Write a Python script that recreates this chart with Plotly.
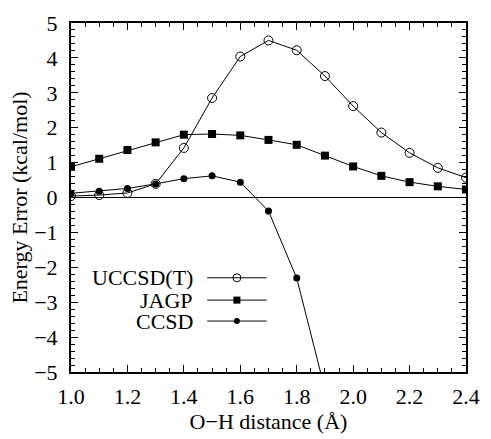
import plotly.graph_objects as go

# ---- data ----
oh_distance = [1.0, 1.1, 1.2, 1.3, 1.4, 1.5, 1.6, 1.7, 1.8, 1.9, 2.0, 2.1, 2.2, 2.3, 2.4]
uccsdt = [0.04, 0.07, 0.13, 0.39, 1.42, 2.85, 4.04, 4.50, 4.22, 3.48, 2.62, 1.86, 1.28, 0.85, 0.57]
jagp = [0.88, 1.11, 1.36, 1.58, 1.80, 1.82, 1.78, 1.65, 1.51, 1.20, 0.89, 0.62, 0.44, 0.32, 0.23]
ccsd_x = [1.0, 1.1, 1.2, 1.3, 1.4, 1.5, 1.6, 1.7, 1.8, 1.9]
ccsd = [0.12, 0.18, 0.26, 0.39, 0.54, 0.62, 0.44, -0.39, -2.31, -5.5]

series_names = ["UCCSD(T)", "JAGP", "CCSD"]
x_ticks = [1.0, 1.2, 1.4, 1.6, 1.8, 2.0, 2.2, 2.4]
y_ticks = [-5, -4, -3, -2, -1, 0, 1, 2, 3, 4, 5]

FONT = "Liberation Serif, Times New Roman, serif"
styles = [
    dict(symbol="circle-open", size=9, color="black", line=dict(color="black", width=1)),
    dict(symbol="square", size=8, color="black"),
    dict(symbol="circle", size=7, color="black"),
]
legend_styles = [
    dict(symbol="circle-open", size=8, color="black", line=dict(color="black", width=1)),
    dict(symbol="square", size=7, color="black"),
    dict(symbol="circle", size=6, color="black"),
]

fig = go.Figure()
for xs, ys, st in [(oh_distance, uccsdt, styles[0]), (oh_distance, jagp, styles[1]), (ccsd_x, ccsd, styles[2])]:
    fig.add_trace(go.Scatter(x=xs, y=ys, mode="lines+markers",
                             line=dict(color="black", width=1), marker=st,
                             showlegend=False, cliponaxis=True))

# custom legend (text left of sample, as in reference)
leg_y = [0.270, 0.206, 0.146]
for name, ly, st in zip(series_names, leg_y, legend_styles):
    fig.add_trace(go.Scatter(x=[0.345, 0.495], y=[ly, ly], mode="lines",
                             line=dict(color="black", width=1),
                             xaxis="x2", yaxis="y2", showlegend=False, hoverinfo="skip"))
    fig.add_trace(go.Scatter(x=[0.42], y=[ly], mode="markers", marker=st,
                             xaxis="x2", yaxis="y2", showlegend=False, hoverinfo="skip"))
    fig.add_annotation(text=name, x=0.311, y=ly, xref="paper", yref="paper",
                       xanchor="right", yanchor="middle", showarrow=False, borderpad=0,
                       font=dict(family=FONT, size=22, color="black"))

axis_common = dict(showline=True, linecolor="black", linewidth=2, mirror="ticks",
                   ticks="inside", tickcolor="black", showgrid=False,
                   tickfont=dict(family=FONT, size=22, color="black"))

fig.update_layout(
    width=491, height=439,
    margin=dict(l=71, r=16, t=11, b=65),
    paper_bgcolor="white", plot_bgcolor="white",
    xaxis=dict(range=[1.0, 2.4], tickvals=x_ticks, ticktext=[f"{v:.1f}" for v in x_ticks],
               ticklen=7, tickwidth=1, zeroline=False, ticklabelstandoff=4,
               minor=dict(dtick=0.05, tick0=1.0, ticks="inside", ticklen=4, tickcolor="black", tickwidth=1),
               title=dict(text="O−H distance (Å)", font=dict(family=FONT, size=22, color="black"), standoff=3),
               **axis_common),
    yaxis=dict(range=[-5, 5], tickvals=y_ticks, ticklen=7, tickwidth=1, ticklabelstandoff=7,
               zeroline=True, zerolinecolor="black", zerolinewidth=1,
               minor=dict(dtick=0.2, tick0=0, ticks="inside", ticklen=4, tickcolor="black", tickwidth=1),
               title=dict(text="Energy Error (kcal/mol)", font=dict(family=FONT, size=22, color="black"), standoff=0),
               **axis_common),
    xaxis2=dict(range=[0, 1], overlaying="x", visible=False),
    yaxis2=dict(range=[0, 1], overlaying="y", visible=False),
)

fig.write_html("out.html")
